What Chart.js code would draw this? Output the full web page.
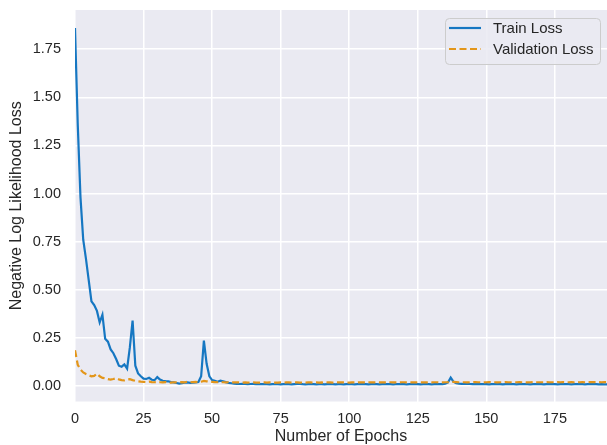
<!DOCTYPE html>
<html>
<head>
<meta charset="utf-8">
<script src="https://cdn.jsdelivr.net/npm/chart.js@4/dist/chart.umd.min.js"></script>
<style>
  html, body { margin: 0; padding: 0; background: #ffffff; }
  #wrap { width: 607px; height: 445px; position: relative; }
</style>
</head>
<body>
<div id="wrap"><canvas id="chart" width="607" height="445"></canvas></div>
<script>
// ─── Data ───────────────────────────────────────────────────────────────────
const TRAIN_LOSS = [
  1.86, 1.36, 0.98, 0.76, 0.66, 0.55, 0.44, 0.42, 0.39, 0.33,
  0.37, 0.245, 0.23, 0.19, 0.17, 0.14, 0.105, 0.10, 0.112, 0.09,
  0.20, 0.34, 0.105, 0.065, 0.05, 0.038, 0.036, 0.042, 0.032, 0.03,
  0.046, 0.033, 0.027, 0.025, 0.024, 0.02, 0.018, 0.015, 0.012, 0.014,
  0.017, 0.018, 0.016, 0.017, 0.018, 0.02, 0.05, 0.235, 0.115, 0.05,
  0.03, 0.026, 0.022, 0.027, 0.024, 0.02, 0.016, 0.014, 0.012, 0.011,
  0.010, 0.011, 0.010, 0.009, 0.010, 0.011, 0.009, 0.010, 0.009, 0.010,
  0.009, 0.008, 0.009, 0.010, 0.009, 0.008, 0.009, 0.010, 0.009, 0.008,
  0.009, 0.010, 0.011, 0.009, 0.008, 0.009, 0.010, 0.009, 0.008, 0.009,
  0.009, 0.008, 0.009, 0.010, 0.009, 0.008, 0.009, 0.009, 0.008, 0.009,
  0.010, 0.009, 0.008, 0.009, 0.010, 0.009, 0.009, 0.008, 0.009, 0.010,
  0.009, 0.008, 0.009, 0.009, 0.010, 0.009, 0.008, 0.009, 0.009, 0.010,
  0.009, 0.008, 0.009, 0.010, 0.009, 0.009, 0.008, 0.009, 0.010, 0.009,
  0.008, 0.009, 0.009, 0.010, 0.009, 0.011, 0.018, 0.043, 0.022, 0.014,
  0.012, 0.011, 0.010, 0.011, 0.010, 0.009, 0.010, 0.009, 0.009, 0.010,
  0.009, 0.008, 0.009, 0.010, 0.009, 0.009, 0.008, 0.009, 0.010, 0.009,
  0.009, 0.008, 0.009, 0.010, 0.009, 0.009, 0.008, 0.009, 0.009, 0.010,
  0.009, 0.008, 0.009, 0.009, 0.010, 0.009, 0.008, 0.009, 0.010, 0.009,
  0.009, 0.008, 0.009, 0.010, 0.009, 0.009, 0.008, 0.009, 0.009, 0.010,
  0.009, 0.008, 0.009, 0.008, 0.008,
];

const VAL_LOSS = [
  0.186, 0.11, 0.085, 0.07, 0.062, 0.055, 0.05, 0.052, 0.064, 0.05,
  0.042, 0.04, 0.035, 0.033, 0.036, 0.04, 0.034, 0.03, 0.029, 0.033,
  0.035, 0.03, 0.026, 0.024, 0.022, 0.021, 0.02, 0.022, 0.02, 0.019,
  0.02, 0.019, 0.018, 0.02, 0.018, 0.017, 0.019, 0.018, 0.017, 0.02,
  0.018, 0.022, 0.019, 0.02, 0.021, 0.019, 0.022, 0.026, 0.024, 0.022,
  0.021, 0.02, 0.019, 0.02, 0.019, 0.018, 0.019, 0.018, 0.018, 0.018,
  0.018, 0.017, 0.018, 0.017, 0.018, 0.018, 0.017, 0.017, 0.018, 0.018,
  0.017, 0.018, 0.018, 0.017, 0.017, 0.018, 0.017, 0.018, 0.018, 0.017,
  0.018, 0.018, 0.017, 0.018, 0.017, 0.018, 0.018, 0.017, 0.018, 0.017,
  0.018, 0.017, 0.018, 0.018, 0.017, 0.018, 0.018, 0.019, 0.018, 0.018,
  0.017, 0.018, 0.018, 0.018, 0.019, 0.018, 0.018, 0.019, 0.018, 0.018,
  0.019, 0.018, 0.018, 0.018, 0.019, 0.019, 0.018, 0.018, 0.018, 0.019,
  0.019, 0.018, 0.019, 0.018, 0.018, 0.019, 0.019, 0.018, 0.018, 0.019,
  0.018, 0.019, 0.019, 0.018, 0.018, 0.019, 0.019, 0.020, 0.021, 0.020,
  0.019, 0.019, 0.019, 0.018, 0.019, 0.019, 0.020, 0.019, 0.019, 0.018,
  0.019, 0.020, 0.019, 0.019, 0.018, 0.019, 0.019, 0.020, 0.019, 0.019,
  0.019, 0.019, 0.020, 0.019, 0.019, 0.018, 0.019, 0.020, 0.019, 0.019,
  0.019, 0.019, 0.020, 0.019, 0.019, 0.019, 0.020, 0.019, 0.020, 0.019,
  0.019, 0.020, 0.019, 0.020, 0.019, 0.020, 0.019, 0.020, 0.020, 0.020,
  0.020, 0.020, 0.019, 0.020, 0.020,
];

const X_TICKS = [0, 25, 50, 75, 100, 125, 150, 175];
const Y_TICKS = [0, 0.25, 0.5, 0.75, 1.0, 1.25, 1.5, 1.75];

const SERIES_LABELS = ['Train Loss', 'Validation Loss'];

// ─── Style ──────────────────────────────────────────────────────────────────
const BLUE = '#1677c2';
const ORANGE = '#e3961a';
const PANEL_BG = '#eaeaf2';
const TEXT = '#262626';
const FONT = "'Liberation Sans', Arial, sans-serif";
const DASH = [7, 3.5];
const LINE_W = 2.2;

const toPoints = values => values.map((y, x) => ({ x, y }));

// Seaborn-ish grey panel behind the grid
const panelBackground = {
  id: 'panelBackground',
  beforeDraw(chart) {
    const { ctx, chartArea: a } = chart;
    ctx.save();
    ctx.fillStyle = PANEL_BG;
    ctx.fillRect(a.left, a.top, a.right - a.left, a.bottom - a.top);
    ctx.restore();
  },
};

// Legend box drawn inside the plot, top right
const insideLegend = {
  id: 'insideLegend',
  afterDatasetsDraw(chart) {
    const { ctx } = chart;
    const box = { x: 445.5, y: 18.5, w: 155, h: 46, r: 4 };
    ctx.save();
    ctx.beginPath();
    ctx.roundRect(box.x, box.y, box.w, box.h, box.r);
    ctx.fillStyle = 'rgba(234,234,242,0.85)';
    ctx.fill();
    ctx.strokeStyle = '#cccccc';
    ctx.lineWidth = 1;
    ctx.stroke();

    const rows = [28, 49];
    chart.data.datasets.forEach((ds, i) => {
      const y = rows[i];
      ctx.beginPath();
      ctx.setLineDash(ds.borderDash || []);
      ctx.strokeStyle = ds.borderColor;
      ctx.lineWidth = ds.borderWidth;
      ctx.moveTo(449, y);
      ctx.lineTo(481, y);
      ctx.stroke();
      ctx.setLineDash([]);
      ctx.fillStyle = TEXT;
      ctx.font = `15px ${FONT}`;
      ctx.textBaseline = 'middle';
      ctx.fillText(ds.label, 493, y + 1);
    });
    ctx.restore();
  },
};

new Chart(document.getElementById('chart'), {
  type: 'line',
  data: {
    datasets: [
      {
        label: SERIES_LABELS[0],
        data: toPoints(TRAIN_LOSS),
        borderColor: BLUE,
        borderWidth: LINE_W,
        pointRadius: 0,
        tension: 0,
        order: 1,
      },
      {
        label: SERIES_LABELS[1],
        data: toPoints(VAL_LOSS),
        borderColor: ORANGE,
        borderWidth: LINE_W,
        borderDash: DASH,
        pointRadius: 0,
        tension: 0,
        order: 0,
      },
    ],
  },
  options: {
    responsive: false,
    animation: false,
    layout: { padding: { top: 10, right: 0, left: 0, bottom: 0 } },
    plugins: {
      legend: { display: false },
      tooltip: { enabled: false },
    },
    scales: {
      x: {
        type: 'linear',
        min: 0,
        max: 194,
        afterFit(scale) {
          scale.height = 43.5;
          scale.paddingLeft = 0;
          scale.paddingRight = 0;
        },
        afterBuildTicks(scale) { scale.ticks = X_TICKS.map(value => ({ value })); },
        border: { display: false },
        grid: { color: '#ffffff', lineWidth: 1.5, drawTicks: false },
        ticks: {
          padding: 9,
          color: TEXT,
          font: { family: FONT, size: 14.5 },
          maxRotation: 0,
          callback: v => String(v),
        },
        title: {
          display: true,
          text: 'Number of Epochs',
          color: TEXT,
          font: { family: FONT, size: 16, lineHeight: 1 },
          padding: { top: 0, bottom: 0 },
        },
      },
      y: {
        type: 'linear',
        min: -0.081,
        max: 1.954,
        afterFit(scale) {
          scale.width = 75;
          scale.paddingTop = 0;
          scale.paddingBottom = 0;
        },
        afterBuildTicks(scale) { scale.ticks = Y_TICKS.map(value => ({ value })); },
        border: { display: false },
        grid: { color: '#ffffff', lineWidth: 1.5, drawTicks: false },
        ticks: {
          padding: 14,
          color: TEXT,
          font: { family: FONT, size: 14.5 },
          callback: v => Number(v).toFixed(2),
        },
        title: {
          display: true,
          text: 'Negative Log Likelihood Loss',
          color: TEXT,
          font: { family: FONT, size: 16, lineHeight: 1 },
          padding: { top: 9, bottom: 0 },
        },
      },
    },
  },
  plugins: [panelBackground, insideLegend],
});
</script>
</body>
</html>
